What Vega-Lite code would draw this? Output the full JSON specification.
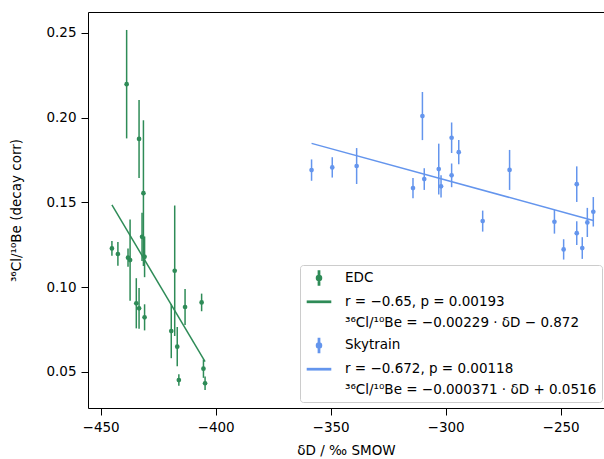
{
  "$schema": "https://vega.github.io/schema/vega-lite/v6.json",
  "width": 516,
  "height": 396,
  "autosize": {"type": "none"},
  "padding": {"left": 88, "top": 12, "right": 0, "bottom": 51},
  "background": "white",
  "config": {
    "font": "DejaVu Sans",
    "view": {"stroke": "black", "strokeWidth": 1},
    "axis": {
      "grid": false, "domain": false, "tickColor": "black", "tickSize": 7, "tickWidth": 1,
      "labelFont": "DejaVu Sans", "labelFontSize": 13.5, "labelColor": "black",
      "titleFont": "DejaVu Sans", "titleFontSize": 13.5, "titleFontWeight": "normal", "titleColor": "black",
      "labelFlush": false, "labelOverlap": false
    }
  },
  "data": {
    "values": [
      {"series": "EDC", "dD": -445.1, "ratio": 0.1228, "err": 0.0043},
      {"series": "EDC", "dD": -442.5, "ratio": 0.1195, "err": 0.007},
      {"series": "EDC", "dD": -438.7, "ratio": 0.2197, "err": 0.032},
      {"series": "EDC", "dD": -438.1, "ratio": 0.1173, "err": 0.0054},
      {"series": "EDC", "dD": -437.2, "ratio": 0.1159, "err": 0.024},
      {"series": "EDC", "dD": -434.5, "ratio": 0.0904, "err": 0.0148},
      {"series": "EDC", "dD": -433.3, "ratio": 0.1874, "err": 0.023},
      {"series": "EDC", "dD": -433.3, "ratio": 0.0874, "err": 0.012},
      {"series": "EDC", "dD": -432.0, "ratio": 0.1296, "err": 0.0142},
      {"series": "EDC", "dD": -431.4, "ratio": 0.1554, "err": 0.043},
      {"series": "EDC", "dD": -430.9, "ratio": 0.1178, "err": 0.012},
      {"series": "EDC", "dD": -430.9, "ratio": 0.0821, "err": 0.0077},
      {"series": "EDC", "dD": -419.3, "ratio": 0.074, "err": 0.016},
      {"series": "EDC", "dD": -417.8, "ratio": 0.1096, "err": 0.0385},
      {"series": "EDC", "dD": -416.7, "ratio": 0.0648, "err": 0.0116},
      {"series": "EDC", "dD": -416.0, "ratio": 0.0451, "err": 0.0034},
      {"series": "EDC", "dD": -413.3, "ratio": 0.0882, "err": 0.0106},
      {"series": "EDC", "dD": -406.1, "ratio": 0.0909, "err": 0.0052},
      {"series": "EDC", "dD": -405.3, "ratio": 0.0518, "err": 0.0054},
      {"series": "EDC", "dD": -404.6, "ratio": 0.0432, "err": 0.004},
      {"series": "Skytrain", "dD": -358.3, "ratio": 0.169, "err": 0.0063},
      {"series": "Skytrain", "dD": -349.3, "ratio": 0.1706, "err": 0.006},
      {"series": "Skytrain", "dD": -338.7, "ratio": 0.1714, "err": 0.0106},
      {"series": "Skytrain", "dD": -314.2, "ratio": 0.1584, "err": 0.006},
      {"series": "Skytrain", "dD": -310.1, "ratio": 0.2009, "err": 0.0142},
      {"series": "Skytrain", "dD": -309.3, "ratio": 0.1637, "err": 0.0064},
      {"series": "Skytrain", "dD": -303.0, "ratio": 0.1696, "err": 0.015},
      {"series": "Skytrain", "dD": -302.0, "ratio": 0.1594, "err": 0.0065},
      {"series": "Skytrain", "dD": -297.4, "ratio": 0.1881, "err": 0.009},
      {"series": "Skytrain", "dD": -297.4, "ratio": 0.1659, "err": 0.007},
      {"series": "Skytrain", "dD": -294.3, "ratio": 0.1796, "err": 0.0072},
      {"series": "Skytrain", "dD": -283.9, "ratio": 0.1389, "err": 0.0062},
      {"series": "Skytrain", "dD": -272.2, "ratio": 0.1691, "err": 0.0118},
      {"series": "Skytrain", "dD": -252.7, "ratio": 0.1385, "err": 0.007},
      {"series": "Skytrain", "dD": -248.7, "ratio": 0.1222, "err": 0.006},
      {"series": "Skytrain", "dD": -243.0, "ratio": 0.1607, "err": 0.0105},
      {"series": "Skytrain", "dD": -243.0, "ratio": 0.1318, "err": 0.007},
      {"series": "Skytrain", "dD": -240.6, "ratio": 0.123, "err": 0.0064},
      {"series": "Skytrain", "dD": -238.4, "ratio": 0.1381, "err": 0.0086},
      {"series": "Skytrain", "dD": -235.8, "ratio": 0.1444, "err": 0.0087}
    ]
  },
  "encoding": {
    "x": {
      "field": "dD", "type": "quantitative",
      "scale": {"domain": [-455.5, -231.15], "nice": false, "zero": false},
      "axis": {"title": "δD / ‰ SMOW", "values": [-450, -400, -350, -300, -250], "labelPadding": 5, "titlePadding": 10}
    },
    "y": {
      "field": "ratio", "type": "quantitative",
      "scale": {"domain": [0.0286, 0.2623], "nice": false, "zero": false},
      "axis": {"title": "³⁶Cl/¹⁰Be (decay corr)", "values": [0.05, 0.1, 0.15, 0.2, 0.25], "format": ".2f", "labelPadding": 5, "titlePadding": 22}
    },
    "color": {
      "field": "series", "type": "nominal",
      "scale": {
        "domain": ["EDC", "r = −0.65, p = 0.00193", "³⁶Cl/¹⁰Be = −0.00229 · δD − 0.872", "Skytrain", "r = −0.672, p = 0.00118", "³⁶Cl/¹⁰Be = −0.000371 · δD + 0.0516"],
        "range": ["#2e8b57", "#2e8b57", "rgba(0,0,0,0)", "#6495ed", "#6495ed", "rgba(0,0,0,0)"]
      },
      "legend": {
        "title": null, "orient": "none", "legendX": 212, "legendY": 253,
        "padding": 5, "symbolSize": 196, "symbolOffset": 6, "labelOffset": 18, "rowPadding": 5.8,
        "labelFont": "DejaVu Sans", "labelFontSize": 13.5, "labelColor": "black", "labelLimit": 400,
        "fillColor": "rgba(255,255,255,0.8)", "strokeColor": "#cccccc", "cornerRadius": 3,
        "encode": {
          "symbols": {
            "update": {
              "shape": {"signal": "(datum.value === 'EDC' || datum.value === 'Skytrain') ? 'M-0.09,-1H0.09V1H-0.09Z M0.36,0A0.36,0.36,0,1,1,-0.36,0A0.36,0.36,0,1,1,0.36,0Z' : 'M-1.65,-0.09H1.65V0.09H-1.65Z'"},
              "fill": {"signal": "scale('color', datum.value)"},
              "stroke": {"value": "transparent"},
              "opacity": {"value": 1}
            }
          }
        }
      }
    }
  },
  "layer": [
    {
      "mark": {"type": "errorbar", "thickness": 1.5},
      "encoding": {"yError": {"field": "err"}}
    },
    {
      "transform": [{"regression": "ratio", "on": "dD", "groupby": ["series"]}],
      "mark": {"type": "line", "strokeWidth": 1.5}
    },
    {
      "mark": {"type": "point", "filled": true, "size": 22, "opacity": 1}
    }
  ]
}
